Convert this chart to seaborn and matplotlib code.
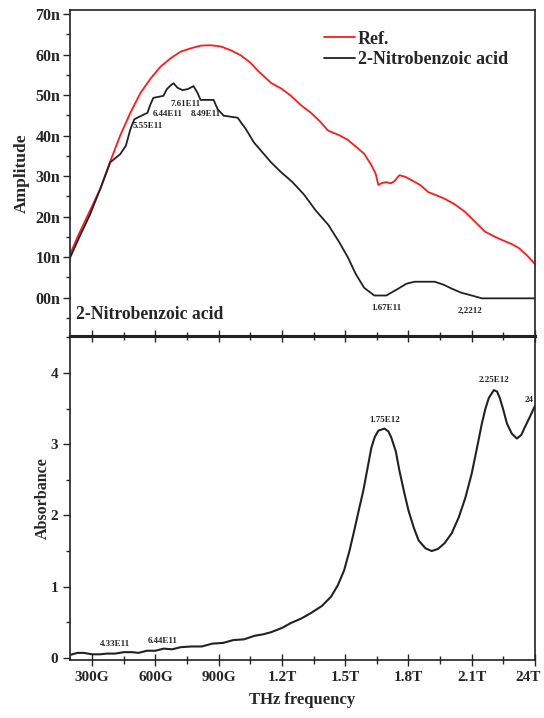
import numpy as np
import pandas as pd
import matplotlib
matplotlib.use("Agg")
import matplotlib.pyplot as plt
import matplotlib.transforms as mtransforms
import seaborn as sns
from matplotlib.ticker import MultipleLocator, FixedLocator

# ---------------- data (THz, nano-amplitude / absorbance) ----------------
ref_x = [0.195, 0.24, 0.29, 0.338, 0.385, 0.433, 0.48, 0.529, 0.576, 0.624, 0.67, 0.719, 0.765,
         0.814, 0.86, 0.91, 0.96, 1.005, 1.05, 1.086, 1.148, 1.2, 1.243, 1.29, 1.338, 1.38,
         1.419, 1.467, 1.51, 1.543, 1.59, 1.624, 1.645, 1.657, 1.675, 1.695, 1.715, 1.733,
         1.757, 1.785, 1.814, 1.855, 1.895, 1.935, 1.971, 2.02, 2.067, 2.11, 2.162, 2.21,
         2.257, 2.29, 2.324, 2.36, 2.4]
ref_y = [10.7, 16.0, 21.5, 26.8, 33.5, 40.0, 45.5, 50.5, 54.0, 57.0, 59.0, 60.7, 61.5,
         62.2, 62.3, 62.0, 61.0, 59.8, 58.0, 56.0, 53.0, 51.5, 49.8, 47.5, 45.6, 43.5,
         41.2, 40.2, 39.0, 37.6, 35.5, 32.7, 30.5, 27.8, 28.3, 28.5, 28.2, 28.7,
         30.2, 29.8, 29.0, 27.8, 26.0, 25.2, 24.4, 23.0, 21.2, 19.0, 16.3, 15.0,
         13.9, 13.2, 12.2, 10.5, 8.3]

smp_x = [0.195, 0.24, 0.29, 0.34, 0.386, 0.433, 0.46, 0.481, 0.50, 0.514, 0.562, 0.575, 0.59,
         0.638, 0.655, 0.675, 0.686, 0.705, 0.729, 0.755, 0.781, 0.80, 0.814, 0.876, 0.895,
         0.924, 0.99, 1.03, 1.067, 1.148, 1.195, 1.25, 1.305, 1.36, 1.419, 1.47, 1.514,
         1.55, 1.59, 1.638, 1.695, 1.752, 1.79, 1.829, 1.924, 1.965, 2.005, 2.05, 2.1,
         2.148, 2.25, 2.4]
smp_y = [9.8, 15.0, 20.5, 27.0, 33.4, 35.4, 37.5, 41.5, 44.0, 44.4, 45.6, 47.5, 49.3,
         49.8, 51.5, 52.5, 52.9, 51.8, 51.2, 51.5, 52.2, 50.5, 48.8, 48.8, 46.5,
         44.9, 44.4, 41.5, 38.3, 33.4, 31.0, 28.5, 25.4, 21.5, 18.0, 13.8, 9.8,
         5.8, 2.4, 0.5, 0.5, 2.2, 3.4, 3.9, 3.9, 3.2, 2.2, 1.2, 0.5,
         -0.2, -0.2, -0.2]

abs_x = [0.195, 0.23, 0.26, 0.30, 0.338, 0.37, 0.41, 0.45, 0.49, 0.52, 0.56, 0.60, 0.64, 0.68,
         0.72, 0.77, 0.82, 0.87, 0.92, 0.97, 1.02, 1.07, 1.11, 1.148, 1.2, 1.243, 1.29,
         1.338, 1.39, 1.433, 1.465, 1.495, 1.52, 1.543, 1.565, 1.586, 1.605, 1.624, 1.64,
         1.657, 1.686, 1.705, 1.719, 1.74, 1.757, 1.78, 1.8, 1.825, 1.848, 1.88, 1.91,
         1.94, 1.971, 2.005, 2.038, 2.07, 2.1, 2.125, 2.148, 2.165, 2.181, 2.205, 2.22,
         2.233, 2.25, 2.267, 2.29, 2.314, 2.335, 2.352, 2.375, 2.4]
abs_y = [0.04, 0.07, 0.07, 0.05, 0.05, 0.06, 0.06, 0.08, 0.08, 0.07, 0.10, 0.10, 0.13, 0.12,
         0.15, 0.16, 0.16, 0.20, 0.21, 0.25, 0.26, 0.31, 0.33, 0.36, 0.42, 0.49, 0.55,
         0.63, 0.73, 0.86, 1.02, 1.23, 1.50, 1.79, 2.08, 2.35, 2.65, 2.95, 3.10,
         3.19, 3.22, 3.18, 3.09, 2.90, 2.63, 2.32, 2.07, 1.83, 1.65, 1.54, 1.50,
         1.53, 1.61, 1.75, 1.97, 2.25, 2.59, 2.95, 3.29, 3.50, 3.65, 3.76, 3.74,
         3.65, 3.48, 3.29, 3.15, 3.08, 3.13, 3.24, 3.38, 3.54]

top_ann = [("5.55E11", 0.562, 42.4), ("6.44E11", 0.66, 45.4), ("7.61E11", 0.745, 47.8),
           ("8.49E11", 0.84, 45.4), ("1.67E11", 1.695, -2.7), ("2,2212", 2.09, -3.2)]
bot_ann = [("4.33E11", 0.41, 0.20), ("6.44E11", 0.633, 0.24), ("1.75E12", 1.686, 3.34),
           ("2.25E12", 2.205, 3.90), ("24", 2.37, 3.62)]

x_ticks = [0.3, 0.6, 0.9, 1.2, 1.5, 1.8, 2.1, 2.4]
x_labels = ["300G", "600G", "900G", "1.2T", "1.5T", "1.8T", "2.1T", "24T"]
amp_ticks = [0, 10, 20, 30, 40, 50, 60, 70]
amp_labels = ["00n", "10n", "20n", "30n", "40n", "50n", "60n", "70n"]
abs_ticks = [0, 1, 2, 3, 4]

# ---------------- style ----------------
sns.set_style("white")
plt.rcParams["font.family"] = ["Liberation Serif", "DejaVu Serif"]
plt.rcParams["font.weight"] = "bold"
plt.rcParams["axes.linewidth"] = 1.2

fig = plt.figure(figsize=(5.44, 7.18), dpi=100)
ax1 = fig.add_axes([70/544, 1-336/718, 465/544, 326/718])
ax2 = fig.add_axes([70/544, 1-660/718, 465/544, 324/718])

df_ref = pd.DataFrame({"f": ref_x, "v": ref_y})
df_smp = pd.DataFrame({"f": smp_x, "v": smp_y})
df_abs = pd.DataFrame({"f": abs_x, "v": abs_y})

sns.lineplot(data=df_ref, x="f", y="v", ax=ax1, color="#ff1a1a", lw=1.3, label="Ref.")
sns.lineplot(data=df_smp, x="f", y="v", ax=ax1, color="#222222", lw=1.3, label="2-Nitrobenzoic acid")
sns.lineplot(data=df_abs, x="f", y="v", ax=ax2, color="#222222", lw=1.5)

for ax in (ax1, ax2):
    ax.set_xlim(0.195, 2.4)
    ax.xaxis.set_major_locator(FixedLocator(x_ticks))
    ax.xaxis.set_minor_locator(FixedLocator([0.45, 0.75, 1.05, 1.35, 1.65, 1.95, 2.25]))
    for s in ax.spines.values():
        s.set_color("#222222")
        s.set_linewidth(1.2)

# top axes
ax1.set_ylim(-9.5, 71)
ax1.set_yticks(amp_ticks)
ax1.set_yticklabels(amp_labels, fontsize=11.5, fontweight="bold")
ax1.yaxis.set_minor_locator(MultipleLocator(5))
ax1.set_xticklabels([])
ax1.tick_params(axis="y", which="major", direction="out", length=5, width=1, left=True, pad=2)
ax1.tick_params(axis="y", which="minor", direction="out", length=3, width=1, left=True)
ax1.tick_params(axis="x", which="both", bottom=False)
ax1.set_xlabel("")
ax1.set_ylabel("Amplitude", fontsize=12.5, fontweight="bold", labelpad=4)
ax1.spines["bottom"].set_linewidth(2.2)
leg = ax1.legend(loc="upper left", bbox_to_anchor=(0.52, 0.975), frameon=False,
                 handlelength=1.7, handletextpad=0.15, labelspacing=0.2, borderaxespad=0.3,
                 prop={"family": "Liberation Serif", "weight": "bold", "size": 13})
ax1.text(0.012, 0.066, "2-Nitrobenzoic acid", transform=ax1.transAxes, fontsize=12.7,
         fontweight="bold", va="center", ha="left")
for t, x, y in top_ann:
    ax1.text(x, y, t, fontsize=6.5, fontweight="bold", ha="center", va="center")

# bottom axes
ax2.set_ylim(-0.03, 4.52)
ax2.set_yticks(abs_ticks)
ax2.set_yticklabels([str(v) for v in abs_ticks], fontsize=11, fontweight="bold")
ax2.yaxis.set_minor_locator(MultipleLocator(0.5))
ax2.set_xticklabels(x_labels, fontsize=11, fontweight="bold")
ax2.tick_params(axis="y", which="major", direction="out", length=5, width=1, left=True)
ax2.tick_params(axis="y", which="minor", direction="out", length=3, width=1, left=True)
ax2.tick_params(axis="x", which="major", direction="inout", length=9, width=1,
                bottom=True, top=True)
ax2.tick_params(axis="x", which="minor", direction="inout", length=6, width=1,
                bottom=True, top=True)
ax2.set_xlabel("THz frequency", fontsize=12, fontweight="bold", labelpad=6)
ax2.set_ylabel("Absorbance", fontsize=11.5, fontweight="bold", labelpad=0)
ax2.spines["top"].set_linewidth(2.2)
last = ax2.get_xticklabels()[-1]
last.set_transform(last.get_transform() + mtransforms.ScaledTranslation(-7/100, 0, fig.dpi_scale_trans))
for t, x, y in bot_ann:
    ax2.text(x, y, t, fontsize=6.5, fontweight="bold", ha="center", va="center")

fig.savefig("out.png", dpi=100)
